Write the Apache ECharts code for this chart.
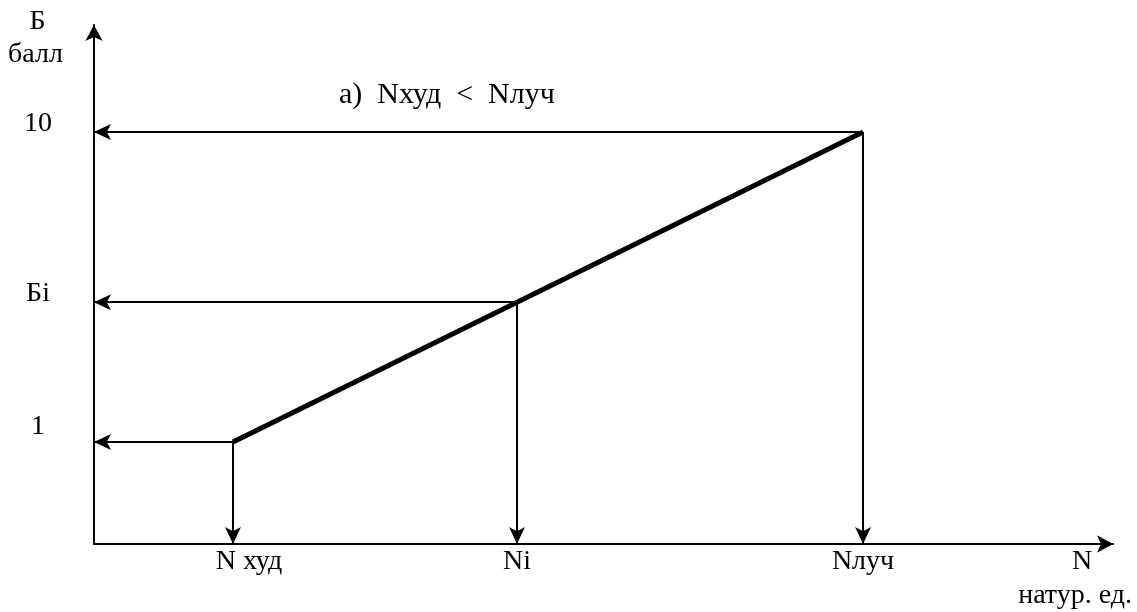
<!DOCTYPE html>
<html>
<head>
<meta charset="utf-8">
<script src="https://cdn.jsdelivr.net/npm/echarts@6/dist/echarts.min.js"></script>
<style>
  html, body { margin: 0; padding: 0; background: #fff; }
  #chart { width: 1137px; height: 612px; }
</style>
</head>
<body>
<div id="chart"></div>
<script>
// точки на осях (условные единицы)
const xLabels = ['N худ', 'Ni', 'Nлуч']
const xValues = [13.64, 41.51, 75.47]
const yLabels = ['1', 'Бi', '10']
const yValues = [1, 5.06, 10]

const xMin = 0, xMax = 100
const yMin = -1.961, yMax = 13.107

const font = 'Liberation Serif'
const chart = echarts.init(document.getElementById('chart'))

// стрелки от точек к осям
const arrows = []
xValues.forEach((x, i) => {
  arrows.push({ coords: [[x, yValues[i]], [xMin, yValues[i]]] })
  arrows.push({ coords: [[x, yValues[i]], [x, yMin]] })
})

const txt = { fontFamily: font, fontSize: 28, color: '#000' }
const yRich = {
  r0: Object.assign({ lineHeight: 30 }, txt),
  r1: Object.assign({ lineHeight: 18 }, txt),
  r2: Object.assign({ lineHeight: 16 }, txt)
}

chart.setOption({
  animation: false,
  backgroundColor: '#fff',
  title: {
    text: 'а)  Nхуд  <  Nлуч',
    left: 334, top: 75,
    textStyle: Object.assign({}, txt, { fontWeight: 'normal', fontSize: 30 })
  },
  grid: { left: 94, right: 24, top: 25, bottom: 68 },
  xAxis: {
    type: 'value', min: xMin, max: xMax,
    splitLine: { show: false },
    axisTick: { show: false },
    axisLine: { onZero: false, lineStyle: { color: '#000', width: 2 }, symbol: ['none', 'arrow'], symbolSize: [13, 16] },
    axisLabel: Object.assign({
      customValues: xValues,
      formatter: v => {
        const s = xLabels[xValues.indexOf(v)]
        return v === xValues[0] ? '{sh|' + s + '}' : s
      },
      rich: { sh: Object.assign({ padding: [0, 0, 0, 32] }, txt) },
      margin: 4
    }, txt)
  },
  yAxis: {
    type: 'value', min: yMin, max: yMax,
    splitLine: { show: false },
    axisTick: { show: false },
    axisLine: { onZero: false, lineStyle: { color: '#000', width: 2 }, symbol: ['none', 'arrow'], symbolSize: [13, 16] },
    axisLabel: Object.assign({
      customValues: yValues,
      formatter: v => {
        const i = yValues.indexOf(v)
        return '{r' + i + '|' + yLabels[i] + '}'
      },
      rich: yRich,
      margin: 56, align: 'center', verticalAlign: 'bottom'
    }, txt)
  },
  graphic: [
    { type: 'text', x: 37.5, y: 22, style: { text: 'Б', font: '28px ' + font, fill: '#000', align: 'center', verticalAlign: 'middle' } },
    { type: 'text', x: 35.5, y: 55, style: { text: 'балл', font: '28px ' + font, fill: '#000', align: 'center', verticalAlign: 'middle' } },
    { type: 'text', x: 1082, y: 562, style: { text: 'N', font: '28px ' + font, fill: '#000', align: 'center', verticalAlign: 'middle' } },
    { type: 'text', x: 1132, y: 596, style: { text: 'натур. ед.', font: '28px ' + font, fill: '#000', align: 'right', verticalAlign: 'middle' } }
  ],
  series: [
    {
      type: 'line',
      data: [[xValues[0], yValues[0]], [xValues[2], yValues[2]]],
      symbol: 'none',
      lineStyle: { color: '#000', width: 5 },
      z: 3
    },
    {
      type: 'lines',
      coordinateSystem: 'cartesian2d',
      data: arrows,
      symbol: ['none', 'arrow'],
      symbolSize: [1, [12, 17]],
      lineStyle: { color: '#000', width: 2, opacity: 1 },
      z: 2
    }
  ]
})
</script>
</body>
</html>
